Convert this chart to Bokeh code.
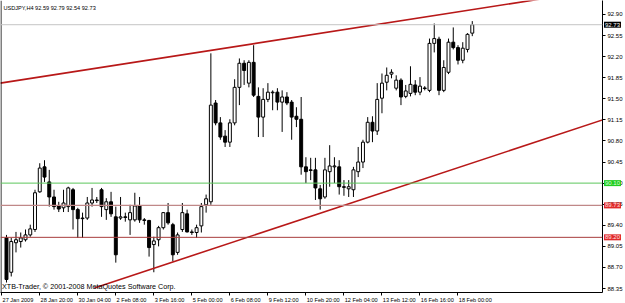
from bokeh.plotting import figure
from bokeh.models import FixedTicker, Label, Span, Range1d, ColumnDataSource, CustomJSTickFormatter
from bokeh.embed import file_html
from bokeh.resources import INLINE

# ---------------- data (USDJPY, H4) ----------------
opens = [89.19, 88.62, 89.11, 89.13, 89.16, 89.24, 89.33, 89.955, 90.37, 90.12,
         89.87, 89.72, 89.69, 89.71, 89.99, 89.66, 89.52, 89.52, 89.77, 89.82,
         89.99, 89.66, 89.79, 89.54, 89.52, 89.54, 89.49, 89.49, 89.72, 89.49,
         89.48, 89.08, 89.16, 89.36, 89.61, 89.41, 88.95, 89.33, 89.59, 89.29,
         89.28, 89.39, 89.74, 89.79, 91.43, 91.10, 90.88, 90.78, 91.10, 91.69,
         92.09, 91.76, 92.105, 91.54, 91.196, 91.49, 91.60, 91.61, 91.445, 91.53,
         91.445, 91.21, 91.16, 90.37, 90.32, 90.32, 90.005, 89.87, 90.29, 90.37,
         90.37, 90.04, 90.005, 89.99, 90.29, 90.45, 90.78, 91.11, 90.965, 91.51,
         91.775, 91.91, 91.676, 91.81, 91.54, 91.59, 91.73, 91.61, 91.68, 91.64,
         92.42, 92.49, 91.64, 91.94, 92.44, 92.35, 92.14, 92.32, 92.59]
highs = [89.24, 89.19, 89.29, 89.28, 89.33, 89.41, 89.99, 90.43, 90.48, 90.32,
         89.99, 89.79, 89.99, 90.04, 90.02, 89.69, 89.61, 89.87, 90.02, 89.87,
         90.02, 89.85, 89.955, 89.71, 89.87, 89.61, 89.74, 89.94, 89.87, 89.52,
         89.49, 89.21, 89.39, 89.62, 89.77, 89.44, 89.28, 89.77, 89.66, 89.33,
         89.41, 89.77, 89.91, 92.255, 91.48, 91.196, 90.98, 91.16, 91.825, 92.17,
         92.14, 92.14, 92.39, 91.69, 91.676, 91.76, 91.64, 91.676, 91.64, 91.61,
         91.48, 91.36, 91.53, 90.53, 90.52, 90.52, 90.07, 90.52, 90.73, 90.53,
         90.48, 90.15, 90.15, 90.37, 90.70, 90.82, 91.196, 91.21, 91.76, 91.92,
         92.02, 91.99, 91.89, 91.84, 91.73, 92.04, 91.81, 91.86, 91.71, 92.50,
         92.75, 92.53, 92.14, 92.50, 92.685, 92.39, 92.44, 92.59, 92.79]
lows = [88.45, 88.55, 88.95, 89.03, 89.13, 89.21, 89.29, 89.94, 90.12, 89.71,
        89.66, 89.62, 89.62, 89.62, 89.33, 89.19, 89.19, 89.49, 89.71, 89.77,
        89.54, 89.49, 89.54, 88.78, 89.49, 89.46, 89.24, 89.46, 89.44, 89.41,
        88.88, 88.62, 89.05, 89.33, 89.41, 88.80, 88.91, 89.29, 89.28, 89.24,
        89.19, 89.28, 89.61, 89.74, 91.06, 90.82, 90.70, 90.70, 91.06, 91.395,
        91.73, 91.69, 91.53, 90.865, 90.865, 91.445, 91.31, 91.31, 90.95, 91.395,
        90.82, 91.03, 90.24, 90.10, 90.15, 89.82, 89.66, 89.84, 90.04, 90.10,
        89.91, 89.89, 89.87, 89.87, 90.20, 90.35, 90.76, 90.78, 90.90, 91.26,
        91.64, 91.84, 91.64, 91.395, 91.51, 91.54, 91.56, 91.56, 91.64, 91.61,
        92.27, 91.56, 91.61, 91.91, 92.32, 92.07, 92.09, 92.27, 92.54]
closes = [88.50, 89.13, 89.16, 89.19, 89.24, 89.34, 89.94, 90.35, 90.20, 89.87,
          89.71, 89.67, 89.77, 90.02, 89.66, 89.51, 89.51, 89.77, 89.82, 89.81,
          89.71, 89.79, 89.59, 88.91, 89.54, 89.53, 89.61, 89.72, 89.49, 89.48,
          89.03, 89.14, 89.36, 89.61, 89.44, 88.91, 89.24, 89.61, 89.29, 89.28,
          89.36, 89.71, 89.84, 91.395, 91.10, 90.865, 90.78, 91.10, 91.69, 92.09,
          91.97, 92.105, 91.56, 91.196, 91.49, 91.61, 91.61, 91.445, 91.53, 91.43,
          91.196, 91.16, 90.37, 90.29, 90.31, 90.02, 89.84, 90.32, 90.385, 90.385,
          90.04, 90.03, 90.04, 90.32, 90.45, 90.78, 91.11, 90.965, 91.49, 91.76,
          91.89, 91.94, 91.81, 91.53, 91.63, 91.74, 91.61, 91.71, 91.67, 92.42,
          92.50, 91.64, 92.02, 92.44, 92.35, 92.14, 92.34, 92.57, 92.73]

time_labels = ["27 Jan 2009", "28 Jan 20:00", "30 Jan 04:00", "2 Feb 08:00",
               "3 Feb 16:00", "5 Feb 00:00", "6 Feb 08:00", "9 Feb 12:00",
               "10 Feb 20:00", "12 Feb 04:00", "13 Feb 12:00", "16 Feb 16:00",
               "18 Feb 00:00"]
time_label_bars = [-1.15, 6.85, 14.85, 22.85, 30.85, 38.85, 46.85, 54.85,
                   62.85, 70.85, 78.85, 86.85, 94.85]
price_ticks = [88.35, 88.70, 89.05, 89.40, 89.75, 90.10, 90.45, 90.80,
               91.15, 91.50, 91.85, 92.20, 92.55, 92.90]

bid_level = 92.73
green_level = 90.10
level_a = 89.73
level_b = 89.20
upper_trend_x = [-1.3, 120.0]
upper_trend_y = [91.76, 93.25]
lower_trend_x = [18.5, 126.0]
lower_trend_y = [88.36, 91.165]

title_text = "USDJPY,H4  92.59 92.79 92.54 92.73"
copyright_text = "XTB-Trader, \u00a9 2001-2008 MetaQuotes Software Corp."

# ---------------- figure ----------------
FW, FH = 602, 292
X0, X1 = -1.26, 125.4
Y0, Y1 = 88.284, 93.132
FONT = "Liberation Sans"

p = figure(frame_width=FW, frame_height=FH, output_backend="svg",
           toolbar_location=None, y_axis_location="right",
           x_range=Range1d(X0, X1), y_range=Range1d(Y0, Y1),
           min_border_left=0, min_border_right=0, min_border_top=0, min_border_bottom=0)
p.background_fill_color = "white"
p.border_fill_color = "white"
p.outline_line_color = None
p.grid.visible = False

bar_px = FW / (X1 - X0)
py = FH / (Y1 - Y0)

# left border of the chart window
p.add_layout(Span(location=X0 + 0.5 / bar_px, dimension="height", line_color="black", line_width=1))

# horizontal levels
p.add_layout(Span(location=bid_level, dimension="width", line_color="#c4c4c4", line_width=1))
p.add_layout(Span(location=green_level, dimension="width", line_color="#5cc65c", line_width=1))
p.add_layout(Span(location=level_a, dimension="width", line_color="#c08888", line_width=1.3))
p.add_layout(Span(location=level_b, dimension="width", line_color="#a83c3c", line_width=1))

# candles
n = len(opens)
idx = list(range(n))
up = [c >= o for o, c in zip(opens, closes)]
src = ColumnDataSource(dict(
    x=idx, o=opens, h=highs, l=lows, c=closes,
    top=[max(o, c) for o, c in zip(opens, closes)],
    bottom=[min(o, c) for o, c in zip(opens, closes)],
    fill=["white" if u else "black" for u in up],
))
p.segment(x0="x", y0="l", x1="x", y1="h", source=src, line_color="black", line_width=1)
p.vbar(x="x", top="top", bottom="bottom", width=0.62, source=src,
       fill_color="fill", line_color="black", line_width=1)

# trend lines
p.line(upper_trend_x, upper_trend_y, line_color="#b81818", line_width=1.6)
p.line(lower_trend_x, lower_trend_y, line_color="#b81818", line_width=1.6)

# right price axis
ya = p.yaxis[0]
ya.ticker = FixedTicker(ticks=price_ticks)
ya.formatter = CustomJSTickFormatter(code="return tick.toFixed(2);")
ya.axis_line_color = "black"
ya.major_tick_out = 3
ya.major_tick_in = 0
ya.minor_tick_out = 0
ya.minor_tick_in = 0
ya.major_label_standoff = 2
ya.major_label_text_font = FONT
ya.major_label_text_font_size = "6px"
ya.major_label_text_color = "black"

# bottom time axis: labels left-aligned after their tick marks
cw = {"0": .556, "1": .556, "2": .556, "3": .556, "4": .556, "5": .556, "6": .556,
      "7": .556, "8": .556, "9": .556, " ": .278, ":": .278, "J": .5, "a": .556,
      "n": .556, "F": .611, "e": .556, "b": .556}
fs = 5.6
centers = []
for pos, lab in zip(time_label_bars, time_labels):
    w = sum(cw.get(ch, .55) for ch in lab) * fs
    centers.append(pos + (w / 2 + 1.5) / bar_px)
xa = p.xaxis[0]
xa.ticker = FixedTicker(ticks=centers, minor_ticks=time_label_bars)
xa.major_label_overrides = {c: lab for c, lab in zip(centers, time_labels)}
xa.axis_line_color = "black"
xa.major_tick_out = 3
xa.major_tick_in = 0
xa.major_tick_line_color = None
xa.minor_tick_out = 3
xa.minor_tick_in = 0
xa.minor_tick_line_color = "black"
xa.major_label_standoff = 1
xa.major_label_text_font = FONT
xa.major_label_text_font_size = f"{fs}px"
xa.major_label_text_color = "black"

# texts inside chart
p.add_layout(Label(x=X0 + 3 / bar_px, y=Y1 - 7 / py, text=title_text,
                   text_font=FONT, text_font_size="5.6px", text_color="black",
                   text_baseline="middle", text_align="left"))
p.add_layout(Label(x=X0 + 1.5 / bar_px, y=Y0 + 6 / py, text=copyright_text,
                   text_font=FONT, text_font_size="7.2px", text_color="black",
                   text_baseline="middle", text_align="left"))

# price boxes on the right scale (side-panel labels so they are not clipped)
for lvl, bg, fg in [(bid_level, "black", "white"), (green_level, "#22cc22", "#d8ffd8"),
                    (level_a, "#e02a2a", "#ffe0e0"), (level_b, "#e02a2a", "#ffe0e0")]:
    p.add_layout(Label(x=X1 + 1.5 / bar_px, y=lvl, text=f"{lvl:.2f}", text_font=FONT,
                       text_font_size="6px", text_color=fg, text_baseline="middle",
                       text_align="left", background_fill_color=bg, padding=1), "right")

open("out.html", "w").write(file_html(p, INLINE))
